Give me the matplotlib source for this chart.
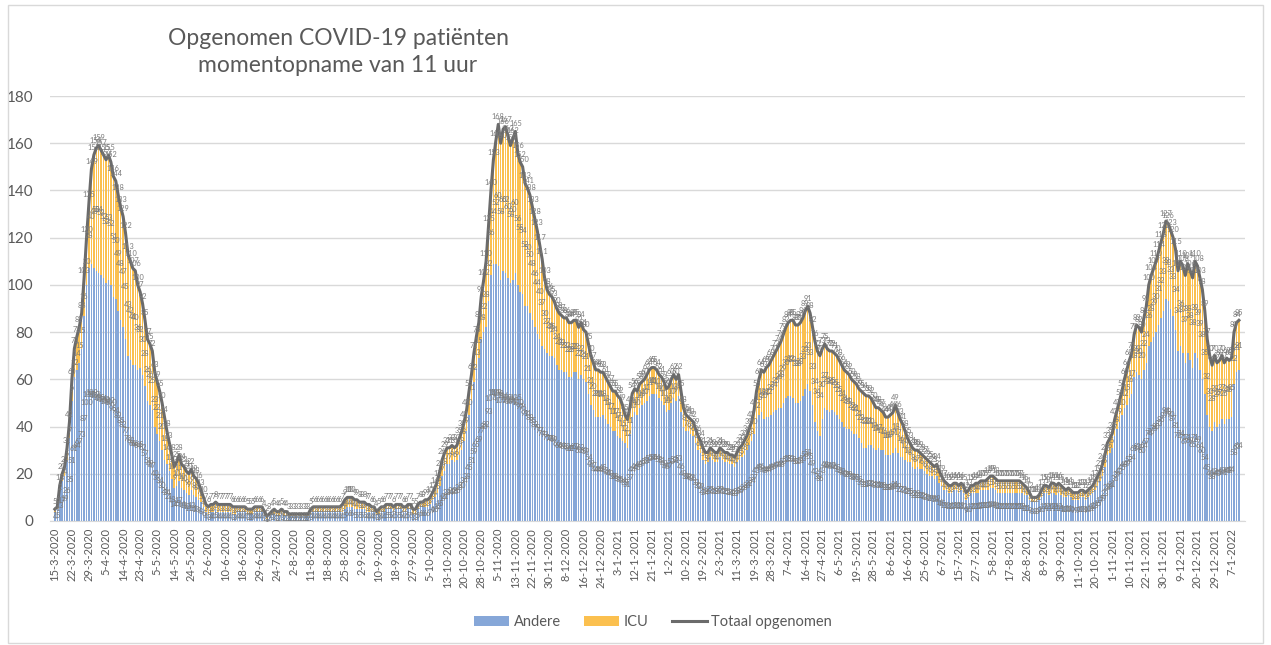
import numpy as np
import matplotlib.pyplot as plt
from matplotlib.patches import Rectangle

# totaal opgenomen per dag (categorie)
totaal = [
    5, 6, 15, 20, 23, 31, 42,
    60, 73, 78, 82, 88, 103, 120,
    135, 149, 155, 158, 159, 157, 155,
    153, 155, 152, 146, 144, 138, 133,
    129, 122, 113, 110, 107, 106, 100,
    97, 92, 85, 77, 75, 72, 63,
    59, 55, 50, 44, 38, 33, 28,
    23, 25, 28, 24, 23, 21, 20,
    22, 19, 18, 16, 13, 10, 7,
    6, 7, 7, 8, 7, 7, 7,
    7, 7, 7, 6, 6, 6, 6,
    6, 6, 5, 5, 5, 6, 6,
    6, 6, 4, 2, 3, 4, 5,
    4, 4, 5, 4, 4, 3, 3,
    3, 3, 3, 3, 3, 3, 3,
    5, 6, 6, 6, 6, 6, 6,
    6, 6, 6, 6, 6, 6, 7,
    9, 10, 10, 10, 9, 9, 8,
    8, 8, 7, 7, 6, 6, 4,
    5, 6, 6, 7, 7, 7, 6,
    7, 7, 7, 6, 6, 7, 7,
    5, 5, 7, 8, 8, 9, 9,
    10, 12, 14, 17, 21, 26, 29,
    31, 31, 32, 31, 32, 35, 38,
    42, 47, 55, 62, 71, 78, 84,
    95, 102, 110, 125, 140, 153, 161,
    168, 160, 166, 167, 163, 159, 162,
    165, 156, 152, 150, 143, 141, 138,
    133, 128, 123, 117, 111, 103, 98,
    96, 95, 93, 90, 88, 87, 86,
    86, 84, 84, 85, 85, 82, 84,
    81, 80, 75, 70, 67, 64, 64,
    63, 63, 61, 59, 57, 55, 55,
    53, 52, 49, 45, 43, 48, 54,
    56, 55, 58, 59, 60, 62, 64,
    65, 65, 64, 62, 61, 59, 56,
    57, 60, 62, 60, 62, 55, 48,
    45, 44, 43, 42, 39, 36, 34,
    31, 29, 29, 31, 30, 29, 29,
    31, 30, 29, 29, 28, 28, 27,
    29, 31, 32, 34, 36, 39, 42,
    47, 55, 60, 64, 63, 65, 66,
    68, 70, 72, 74, 76, 79, 82,
    84, 85, 85, 83, 83, 84, 86,
    89, 91, 88, 82, 76, 72, 70,
    73, 75, 73, 72, 72, 71, 70,
    68, 66, 64, 63, 62, 60, 59,
    58, 56, 55, 54, 53, 53, 52,
    50, 48, 48, 47, 46, 44, 44,
    45, 46, 49, 46, 43, 41, 38,
    35, 33, 31, 30, 30, 29, 28,
    27, 26, 25, 24, 23, 24, 21,
    19, 17, 16, 15, 15, 16, 16,
    15, 16, 15, 12, 13, 15, 15,
    16, 16, 17, 17, 17, 18, 19,
    19, 18, 17, 17, 17, 17, 17,
    17, 17, 17, 17, 17, 16, 15,
    14, 12, 10, 10, 10, 11, 13,
    15, 15, 14, 16, 16, 15, 16,
    15, 14, 13, 14, 13, 12, 12,
    12, 13, 13, 12, 13, 14, 15,
    17, 19, 21, 24, 28, 33, 35,
    37, 43, 47, 51, 55, 60, 64,
    68, 71, 79, 83, 82, 80, 86,
    91, 100, 104, 107, 110, 114, 118,
    122, 127, 126, 123, 120, 115, 106,
    110, 108, 104, 109, 106, 103, 110,
    108, 103, 98, 89, 77, 70, 66,
    70, 67, 68, 70, 67, 69, 68,
    69, 80, 84, 85,
]

icu = [
    1, 1, 2, 3, 4, 5, 7,
    9, 12, 14, 15, 15, 16, 20,
    28, 40, 48, 52, 54, 53, 52,
    52, 53, 52, 51, 50, 49, 48,
    47, 45, 43, 42, 41, 40, 36,
    32, 30, 28, 26, 26, 25, 23,
    22, 21, 20, 18, 14, 12, 10,
    9, 10, 11, 10, 10, 9, 9,
    9, 8, 8, 7, 5, 4, 3,
    3, 3, 3, 3, 3, 3, 3,
    3, 3, 3, 3, 3, 2, 2,
    2, 2, 2, 2, 2, 2, 2,
    2, 2, 2, 1, 1, 1, 2,
    2, 2, 2, 2, 2, 1, 1,
    1, 1, 1, 1, 1, 1, 1,
    2, 2, 2, 2, 2, 2, 2,
    2, 2, 2, 2, 2, 2, 3,
    4, 4, 4, 4, 4, 4, 3,
    3, 3, 3, 3, 2, 2, 1,
    2, 2, 2, 2, 2, 2, 2,
    2, 2, 2, 2, 2, 2, 2,
    2, 2, 2, 2, 2, 3, 3,
    3, 3, 4, 5, 6, 7, 8,
    7, 7, 6, 6, 6, 7, 8,
    8, 9, 10, 11, 12, 13, 15,
    18, 22, 28, 32, 36, 44, 52,
    60, 58, 60, 62, 60, 58, 60,
    60, 56, 55, 54, 52, 50, 50,
    48, 46, 44, 40, 37, 30, 27,
    26, 25, 24, 24, 24, 23, 23,
    23, 23, 23, 22, 22, 22, 22,
    21, 21, 21, 21, 20, 20, 20,
    19, 18, 18, 18, 17, 17, 17,
    17, 17, 15, 12, 12, 11, 10,
    10, 10, 10, 10, 10, 11, 11,
    11, 11, 10, 10, 10, 10, 10,
    10, 10, 10, 9, 9, 9, 8,
    7, 6, 6, 6, 6, 6, 5,
    5, 5, 4, 4, 4, 4, 4,
    4, 4, 4, 4, 4, 4, 4,
    4, 5, 5, 6, 6, 7, 8,
    10, 12, 15, 18, 20, 21, 22,
    23, 24, 25, 26, 28, 29, 30,
    31, 32, 33, 33, 33, 33, 33,
    33, 33, 33, 33, 34, 34, 34,
    30, 27, 26, 26, 25, 25, 25,
    25, 24, 24, 24, 23, 22, 22,
    21, 21, 22, 23, 22, 21, 20,
    19, 18, 17, 17, 16, 16, 16,
    17, 17, 18, 17, 16, 14, 12,
    10, 8, 8, 8, 7, 7, 6,
    6, 6, 6, 5, 5, 5, 5,
    4, 4, 3, 3, 3, 3, 3,
    3, 3, 3, 3, 3, 3, 3,
    4, 4, 4, 4, 4, 5, 5,
    5, 5, 5, 5, 5, 5, 5,
    5, 5, 5, 5, 5, 4, 4,
    3, 3, 2, 2, 2, 2, 3,
    3, 3, 3, 4, 4, 4, 4,
    4, 4, 3, 3, 3, 3, 3,
    3, 3, 3, 3, 3, 3, 3,
    4, 4, 4, 5, 5, 5, 6,
    6, 7, 8, 9, 10, 12, 15,
    16, 17, 18, 20, 20, 20, 22,
    24, 26, 28, 29, 30, 31, 32,
    33, 33, 33, 33, 33, 34, 34,
    36, 37, 37, 38, 38, 38, 39,
    39, 39, 38, 35, 32, 30, 28,
    28, 27, 27, 27, 26, 26, 25,
    25, 22, 21, 21,
]

tick_labels = [
    '15-3-2020', '22-3-2020', '29-3-2020', '5-4-2020', '14-4-2020', '23-4-2020',
    '5-5-2020', '14-5-2020', '24-5-2020', '2-6-2020', '10-6-2020', '18-6-2020',
    '29-6-2020', '24-7-2020', '2-8-2020', '11-8-2020', '18-8-2020', '25-8-2020',
    '2-9-2020', '10-9-2020', '18-9-2020', '27-9-2020', '5-10-2020', '13-10-2020',
    '20-10-2020', '28-10-2020', '5-11-2020', '13-11-2020', '22-11-2020', '30-11-2020',
    '8-12-2020', '16-12-2020', '24-12-2020', '3-1-2021', '12-1-2021', '21-1-2021',
    '1-2-2021', '10-2-2021', '19-2-2021', '2-3-2021', '11-3-2021', '19-3-2021',
    '28-3-2021', '7-4-2021', '16-4-2021', '27-4-2021', '6-5-2021', '19-5-2021',
    '28-5-2021', '8-6-2021', '16-6-2021', '25-6-2021', '6-7-2021', '15-7-2021',
    '27-7-2021', '5-8-2021', '17-8-2021', '26-8-2021', '8-9-2021', '30-9-2021',
    '11-10-2021', '20-10-2021', '1-11-2021', '10-11-2021', '22-11-2021', '30-11-2021',
    '9-12-2021', '20-12-2021', '29-12-2021', '7-1-2022',
]

plt.rcParams['font.family'] = ['Lato', 'DejaVu Sans']
grey = '#595959'

andere = [t - i for t, i in zip(totaal, icu)]
x = np.arange(len(totaal))

fig = plt.figure(figsize=(12.71, 6.45), dpi=100)
ax = fig.add_axes([50 / 1271, 124 / 645, 1195 / 1271, 425 / 645])

b1 = ax.bar(x, andere, width=0.62, color='#86a7d8', label='Andere', zorder=2)
b2 = ax.bar(x, icu, bottom=andere, width=0.62, color='#fbc04f', label='ICU', zorder=2)
ln, = ax.plot(x, totaal, color='#6b6b6b', lw=2.2, label='Totaal opgenomen', zorder=3)

# data labels zoals in Excel (allemaal, overlappend)
lab = dict(fontsize=5.3, ha='center', color='#7a7a7a', zorder=4)
for i in range(len(x)):
    ax.text(i, andere[i] / 2, str(andere[i]), va='center', **lab)
    ax.text(i, andere[i] + icu[i] / 2, str(icu[i]), va='center', **lab)
    ax.annotate(str(totaal[i]), (i, totaal[i]), xytext=(0, 3),
                textcoords='offset points', va='bottom', **lab)

ax.set_xlim(-2, 488.5)
ax.set_ylim(0, 180)
ax.set_yticks(range(0, 181, 20))
ax.set_xticks(np.arange(len(tick_labels)) * 7)
ax.set_xticklabels(tick_labels, rotation=90, fontsize=8, color=grey)
ax.tick_params(axis='y', length=0, pad=12, labelsize=11, labelcolor=grey)
ax.tick_params(axis='x', length=0, pad=5)
ax.yaxis.grid(True, color='#d9d9d9', lw=1)
ax.set_axisbelow(True)
for s in ['top', 'right', 'left']:
    ax.spines[s].set_visible(False)
ax.spines['bottom'].set_color('#d9d9d9')

fig.text(338 / 1271, 1 - 52 / 645, 'Opgenomen COVID-19 patiënten\nmomentopname van 11 uur',
         ha='center', va='center', fontsize=16.5, color=grey, linespacing=1.4)

leg = fig.legend([b1, b2, ln], ['Andere', 'ICU', 'Totaal opgenomen'], loc='center',
                 bbox_to_anchor=(653 / 1271, 1 - 622 / 645), ncol=3,
                 frameon=False, fontsize=10.5, handlelength=2.4, columnspacing=1.6,
                 handletextpad=0.3)
for t in leg.get_texts():
    t.set_color(grey)

fig.add_artist(Rectangle((8 / 1271, 2 / 645), 1255 / 1271, 638 / 645,
                         transform=fig.transFigure, fill=False, ec='#d9d9d9', lw=1))

fig.savefig('out.png', dpi=100)
